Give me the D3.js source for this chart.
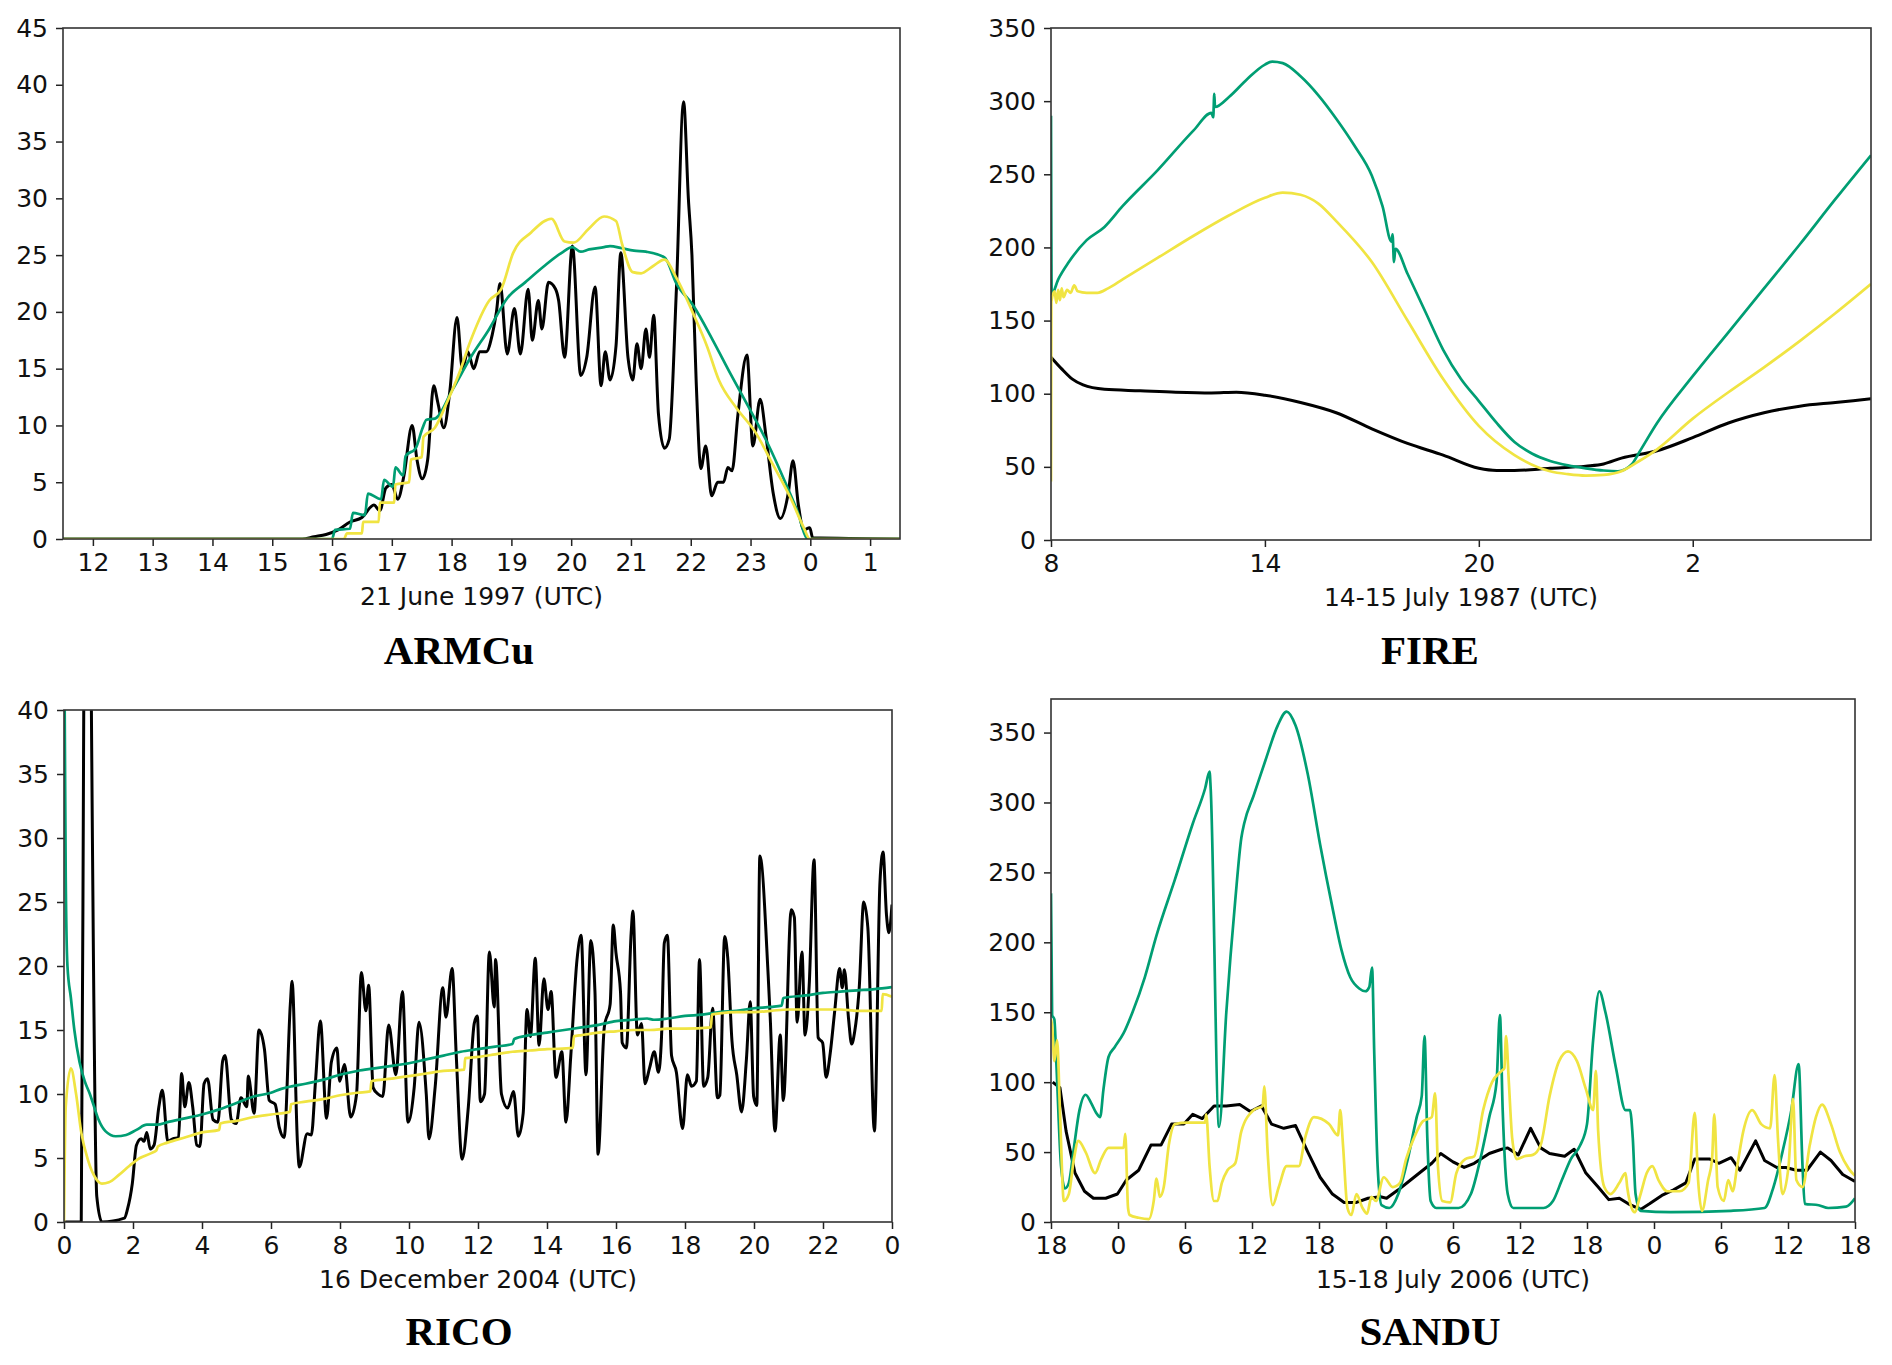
<!DOCTYPE html>
<html>
<head>
<meta charset="utf-8">
<script src="https://cdn.jsdelivr.net/npm/d3@7"></script>
<style>
  body { margin: 0; background: #fff; }
  svg { display: block; }
</style>
</head>
<body>
<svg id="fig" width="1892" height="1365"></svg>
<script>
// ---- data (hours, value) ----

// ARMCu, 21 June 1997
const armcuTicks = [12, 13, 14, 15, 16, 17, 18, 19, 20, 21, 22, 23, 24, 25];
const armcuTickLabels = ["12", "13", "14", "15", "16", "17", "18", "19", "20", "21", "22", "23", "0", "1"];
const armcuYTicks = [0, 5, 10, 15, 20, 25, 30, 35, 40, 45];
const armcuBlack = [[11.5,0],[15.5,0],[15.7,0.2],[15.9,0.4],[16.1,0.8],[16.3,1.5],[16.5,1.9],[16.7,3],[16.8,2.5],[16.9,4.5],[17.0,4.8],[17.1,3.5],[17.2,5.5],[17.34,10],[17.42,7],[17.51,5.3],[17.6,7],[17.7,13.5],[17.77,12],[17.87,9.8],[17.97,13],[18.09,19.5],[18.18,15],[18.27,16.5],[18.37,15],[18.47,16.5],[18.58,16.5],[18.68,18],[18.75,20],[18.81,22.5],[18.93,16.3],[19.05,20.3],[19.15,16.3],[19.28,22],[19.35,17.5],[19.45,21],[19.51,18.5],[19.62,22.6],[19.74,22],[19.79,21],[19.89,16],[20.02,25.8],[20.16,14.4],[20.26,16],[20.4,22.2],[20.5,13.5],[20.57,16.5],[20.65,14],[20.75,17],[20.83,25.2],[20.95,16],[21.03,14],[21.1,17.2],[21.17,15],[21.25,18.5],[21.31,16],[21.38,19.7],[21.46,11],[21.56,8],[21.64,8.8],[21.76,22],[21.88,38.5],[21.96,30],[22.02,25],[22.09,14],[22.17,6.2],[22.25,8.2],[22.35,3.8],[22.45,5],[22.55,5],[22.62,6.3],[22.69,6],[22.79,11],[22.94,16.2],[23.04,8.2],[23.16,12.3],[23.26,9],[23.38,4],[23.5,1.8],[23.63,4],[23.71,6.9],[23.8,3],[23.89,0.8],[23.99,1],[24.04,0.1],[25.5,0]];
const armcuGreen = [[11.5,0],[16.0,0],[16.05,0.8],[16.3,0.9],[16.35,2.3],[16.55,2.1],[16.6,4],[16.82,3.5],[16.87,5.2],[17.02,4.6],[17.06,6.3],[17.19,5.6],[17.23,7.3],[17.4,8],[17.51,9.7],[17.58,10.5],[17.72,10.6],[18.02,13.2],[18.32,16],[18.63,18.5],[18.93,21.2],[19.23,22.6],[19.54,24],[19.84,25.2],[20.02,25.7],[20.16,25.3],[20.3,25.5],[20.55,25.7],[20.65,25.8],[20.85,25.6],[21.05,25.4],[21.25,25.3],[21.56,24.8],[21.76,22.5],[22.05,20.5],[22.37,17.5],[22.67,14.5],[22.98,11.5],[23.28,8.5],[23.58,5],[23.78,2.5],[23.96,0],[25.5,0]];
const armcuYellow = [[11.5,0],[16.2,0],[16.25,0.5],[16.5,0.5],[16.52,1.5],[16.78,1.5],[16.8,3.2],[17.04,3.2],[17.06,4.8],[17.29,5],[17.32,7],[17.5,7.2],[17.53,9],[17.72,9.8],[17.92,12],[18.12,14.5],[18.32,17.5],[18.63,21],[18.83,22],[19.03,25.2],[19.33,27],[19.67,28.2],[19.89,26.2],[20.04,26.1],[20.29,27.3],[20.55,28.4],[20.75,28],[20.85,26],[21.03,23.5],[21.17,23.4],[21.36,24],[21.56,24.6],[21.76,23],[22.07,19.5],[22.27,17],[22.47,14],[22.77,11.5],[23.07,9.5],[23.38,6.5],[23.68,3.5],[23.89,1],[23.99,0],[25.5,0]];

// FIRE, 14-15 July 1987
const fireTicks = [8, 14, 20, 26];
const fireTickLabels = ["8", "14", "20", "2"];
const fireYTicks = [0, 50, 100, 150, 200, 250, 300, 350];
const fireBlack = [[8.0,125],[8.3,117],[8.6,110],[8.9,106],[9.5,103],[10.5,102],[11.5,101],[12.5,100.5],[13.2,101],[14,99],[15,94],[16,87],[17,76],[18,66],[19,58],[20,49],[20.5,47.5],[21,47.5],[22,49],[23,50.5],[23.5,52],[24,56],[25,61],[26,70],[27,80],[28,87],[29,91.5],[30,94],[31,96.5]];
const fireGreen = [[8.0,290],[8.02,168],[8.2,178],[8.5,190],[9,205],[9.5,214],[10,228],[11,253],[12,280],[12.5,292],[12.55,289],[12.58,305],[12.6,296],[13,303],[13.5,315],[14,325],[14.2,327],[14.5,326],[15,317],[15.5,304],[16,288],[16.5,270],[17,249],[17.3,228],[17.55,204],[17.58,209],[17.62,190],[17.66,199],[18,182],[18.5,156],[19,130],[19.5,110],[20,95],[20.5,80],[21,67],[21.5,59],[22,54],[22.5,51],[23,49],[23.5,47.5],[23.9,47],[24.3,52],[24.5,60],[25,80],[26,112],[27,142],[28,172],[29,202],[30,233],[31,263]];
const fireYellow = [[8.0,40],[8.01,163],[8.1,170],[8.15,162],[8.2,171],[8.25,164],[8.3,172],[8.35,166],[8.45,171],[8.55,169],[8.65,174],[8.75,170],[9,169],[9.3,169],[9.6,172],[10,178],[11,193],[12,208],[13,222],[14,234],[14.5,237.5],[15,236],[15.5,230],[16,218],[17,190],[18,150],[19,110],[20,78],[21,58],[22,47],[22.5,45],[23,44],[23.5,44.5],[24,47],[24.5,54],[25,62],[26,83],[27,101],[28,118],[29,136],[30,155],[31,175]];

// RICO, 16 December 2004
const ricoTicks = [0, 2, 4, 6, 8, 10, 12, 14, 16, 18, 20, 22, 24];
const ricoTickLabels = ["0", "2", "4", "6", "8", "10", "12", "14", "16", "18", "20", "22", "0"];
const ricoYTicks = [0, 5, 10, 15, 20, 25, 30, 35, 40];
const ricoBlack = [[0,0],[0.5,0],[0.58,45],[0.62,60],[0.74,60],[0.78,45],[0.95,2],[1.1,0],[1.75,0.3],[1.84,1],[1.98,3],[2.1,6],[2.24,6.5],[2.32,6.3],[2.4,7],[2.5,5.7],[2.61,6],[2.75,9],[2.85,10.3],[3.01,6.3],[3.15,6.5],[3.32,6.6],[3.41,11.6],[3.5,9],[3.62,10.9],[3.73,9],[3.85,6],[3.94,5.9],[4.06,10.8],[4.16,11.2],[4.32,8],[4.46,7.8],[4.6,12.6],[4.67,13],[4.85,8],[4.99,7.7],[5.13,9.7],[5.3,9],[5.34,11.4],[5.51,8.5],[5.65,15],[5.81,13.5],[5.95,9.5],[6.12,9.2],[6.24,7.4],[6.38,6.6],[6.56,17],[6.61,18.8],[6.77,6],[6.82,4.3],[7.05,6.9],[7.17,6.8],[7.29,11],[7.43,15.7],[7.61,8.1],[7.75,12.5],[7.91,13.6],[7.99,11],[8.13,12.3],[8.31,8.2],[8.48,10],[8.62,19.5],[8.75,16.5],[8.83,18.5],[8.96,10.5],[9.1,10],[9.24,9.8],[9.41,15.4],[9.62,11.5],[9.81,18],[9.97,7.8],[10.15,10.5],[10.29,15.6],[10.5,10],[10.58,6.5],[10.76,10.6],[10.98,18.3],[11.07,16],[11.25,19.8],[11.37,13],[11.54,4.9],[11.72,9],[11.89,15.5],[11.98,16.1],[12.07,9.4],[12.19,10],[12.33,21.1],[12.47,16.8],[12.51,20.5],[12.68,10],[12.86,8.9],[13.03,10.2],[13.17,6.7],[13.31,8.5],[13.42,16.6],[13.52,14.5],[13.66,20.6],[13.77,13.8],[13.91,19],[14.03,16.6],[14.12,18],[14.26,11.3],[14.43,13.3],[14.55,7.8],[14.69,13],[14.87,20.5],[14.99,22.4],[15.13,11.5],[15.27,22],[15.39,18],[15.48,5.3],[15.66,15.2],[15.83,17],[15.92,23.2],[16.0,21],[16.13,18],[16.18,14],[16.3,13.6],[16.44,22.6],[16.49,24.3],[16.62,14.6],[16.74,15.5],[16.84,10.8],[16.97,12],[17.11,13.3],[17.23,11.7],[17.32,14.5],[17.4,21.8],[17.49,22.4],[17.61,13],[17.75,11.7],[17.93,7.3],[18.07,11.5],[18.19,10.6],[18.33,11],[18.42,20.5],[18.54,10.6],[18.66,11.3],[18.8,16.7],[18.94,9.7],[19.01,9.9],[19.15,22.3],[19.24,20.6],[19.36,14.2],[19.5,11.5],[19.64,8.6],[19.78,12.7],[19.89,17.2],[19.99,9.8],[20.08,9.1],[20.17,28.6],[20.41,19.3],[20.47,16],[20.61,7.1],[20.76,14.6],[20.85,9.5],[21.08,24.4],[21.17,23.8],[21.25,15.6],[21.39,21.1],[21.48,14.6],[21.6,18.5],[21.74,28.3],[21.86,14.4],[21.99,14],[22.09,11.3],[22.21,13.2],[22.34,16.5],[22.48,19.8],[22.56,18.3],[22.62,19.7],[22.74,15.9],[22.83,13.9],[22.92,14.9],[23.05,18.3],[23.18,25],[23.3,23],[23.49,7.1],[23.65,26.5],[23.74,28.9],[23.84,24],[23.91,22.6],[24,24.8]];
const ricoGreen = [[0,45],[0.02,40],[0.05,27],[0.1,20],[0.2,17.5],[0.3,15],[0.45,12.5],[0.6,11],[0.75,10],[0.85,9.2],[1.0,8],[1.2,7.1],[1.5,6.7],[1.8,6.8],[2.1,7.2],[2.4,7.6],[2.7,7.6],[3.0,7.8],[3.5,8.1],[4,8.4],[4.5,8.8],[5,9.3],[5.5,9.8],[6,10.1],[6.3,10.4],[6.6,10.6],[7,10.8],[7.5,11.1],[8,11.5],[8.5,11.8],[9,12],[9.5,12.2],[10,12.4],[10.5,12.7],[11,13],[11.5,13.3],[12,13.5],[12.5,13.7],[13,13.9],[13.05,14.3],[13.5,14.6],[14,14.8],[14.5,15],[15,15.2],[15.5,15.4],[16,15.7],[16.5,15.8],[16.9,15.9],[17.1,15.8],[17.5,15.9],[18,16.1],[18.5,16.2],[19,16.4],[19.5,16.5],[20,16.7],[20.5,16.8],[20.8,16.9],[20.85,17.5],[21.5,17.7],[22,17.9],[22.5,18],[23,18.1],[23.5,18.2],[24,18.35]];
const ricoYellow = [[0,0],[0.05,9],[0.2,12],[0.35,10],[0.5,7],[0.7,4.8],[0.9,3.5],[1.1,3],[1.3,3.1],[1.6,3.7],[1.9,4.4],[2.2,5],[2.55,5.4],[2.68,5.6],[2.72,5.9],[3,6.2],[3.5,6.6],[4,7],[4.5,7.2],[4.53,7.7],[5,7.9],[5.5,8.2],[6,8.4],[6.55,8.6],[6.58,9.2],[7,9.4],[7.5,9.6],[8,9.9],[8.5,10.1],[8.88,10.2],[8.91,11],[9.5,11.2],[10,11.4],[10.5,11.6],[11,11.8],[11.6,11.9],[11.63,12.8],[12,12.9],[12.5,13.1],[13,13.3],[13.5,13.4],[14,13.5],[14.75,13.6],[14.78,14.5],[15,14.6],[15.5,14.8],[16,14.9],[16.5,15],[17,15],[17.5,15.1],[18,15.1],[18.75,15.2],[18.78,16.2],[19,16.3],[19.5,16.4],[20,16.4],[20.5,16.5],[21,16.6],[21.5,16.6],[22,16.6],[22.5,16.6],[23,16.5],[23.7,16.5],[23.73,17.8],[24,17.6]];

// SANDU, 15-18 July 2006 (hours after 18 UTC on 15 July)
const sanduTicks = [0, 6, 12, 18, 24, 30, 36, 42, 48, 54, 60, 66, 72];
const sanduTickLabels = ["18", "0", "6", "12", "18", "0", "6", "12", "18", "0", "6", "12", "18"];
const sanduYTicks = [0, 50, 100, 150, 200, 250, 300, 350];
const sanduBlack = [[0.15,100],[0.8,96],[1.35,65],[2.15,35],[3.0,22],[3.8,17],[4.9,17],[5.95,20],[6.75,30],[7.85,37],[8.95,55],[9.85,55],[10.8,70],[11.9,70],[12.7,77],[13.55,74],[14.6,83],[15.7,83],[16.9,84],[17.85,79],[18.85,83],[19.75,70],[20.85,67],[21.9,69],[23.0,50],[24.1,32],[25.2,20],[26.25,14],[27.35,14],[28.4,17],[29.5,18],[30.05,17],[31.1,23],[32.2,30],[33.3,37],[34.1,42],[34.9,49],[36.0,43],[37.0,39],[37.9,42],[39.25,49],[40.35,52],[40.9,53],[41.85,48],[42.95,67],[43.85,53],[44.65,49],[46.0,47],[46.85,52],[47.9,35],[49.0,25],[49.95,16],[50.9,17],[51.7,13],[52.8,9],[53.6,13],[54.7,19],[55.75,23],[56.85,28],[57.65,45],[59.0,45],[59.8,42],[60.9,46],[61.7,37],[63.1,58],[63.9,44],[65.0,39],[65.8,39],[66.75,37],[67.7,37],[68.9,50],[69.85,44],[70.9,34],[72,29]];
const sanduGreen = [[0,235],[0.1,148],[0.3,145],[0.5,110],[0.9,40],[1.25,24],[1.6,28],[2.0,50],[2.55,80],[3.1,91],[3.6,85],[4.05,78],[4.4,75],[4.7,95],[5.15,118],[5.7,125],[6.5,135],[7.3,150],[8.4,175],[9.45,205],[11.1,245],[12.7,285],[13.8,310],[14.2,322],[14.3,310],[15.05,68],[15.7,150],[16.5,230],[17.05,275],[17.3,285],[18.15,305],[19.2,330],[20.3,355],[21.1,365],[21.9,355],[23.0,320],[24.1,270],[25.2,225],[26.0,195],[26.8,175],[27.6,167],[28.15,165],[28.5,168],[28.75,182],[28.95,120],[29.25,40],[29.6,12],[30.3,10],[31.1,20],[31.95,45],[32.75,75],[33.2,90],[33.45,133],[33.7,60],[34.0,15],[34.5,10],[36.5,10],[37.6,20],[38.45,45],[39.25,75],[39.9,100],[40.2,148],[40.45,80],[40.9,20],[41.4,10],[44.1,10],[44.95,15],[45.75,30],[46.55,45],[47.4,55],[48.0,70],[48.55,130],[49.1,165],[49.65,150],[50.6,110],[51.45,80],[51.85,80],[52.1,60],[52.35,20],[52.8,8],[55.5,7],[60.9,8],[63.9,10],[64.7,25],[65.5,50],[66.3,80],[66.95,113],[67.3,40],[67.5,13],[68.75,12],[69.6,10],[71.2,11],[72,17]];
const sanduYellow = [[0,145],[0.1,140],[0.3,115],[0.55,130],[0.8,80],[1.15,15],[1.6,20],[2.05,45],[2.45,58],[3.1,50],[3.95,35],[4.5,45],[5.15,53],[6.5,53],[6.65,63],[6.9,10],[7.05,5],[7.85,3],[8.75,2],[9.2,15],[9.45,31],[9.75,18],[10.1,25],[10.55,55],[11.1,70],[12.2,71],[13.8,71],[13.9,77],[14.2,40],[14.6,15],[14.9,15],[15.3,28],[15.8,37],[16.5,42],[17.05,65],[18.15,80],[18.95,83],[19.1,97],[19.4,50],[19.85,12],[20.4,25],[21.1,40],[22.2,40],[22.75,60],[23.55,75],[24.9,70],[25.7,62],[25.9,80],[26.15,55],[26.55,10],[26.9,5],[27.35,20],[27.9,10],[28.3,6],[28.7,18],[29.1,15],[29.8,32],[30.6,25],[31.25,28],[31.8,45],[32.5,60],[33.3,72],[34.1,75],[34.4,92],[34.65,40],[35.05,15],[35.75,14],[36.3,35],[37.1,45],[37.9,47],[38.7,80],[39.5,100],[40.35,108],[40.6,110],[40.75,133],[41.0,100],[41.3,60],[41.7,45],[42.4,47],[43.15,48],[43.85,55],[44.65,90],[45.5,115],[46.3,122],[47.1,115],[47.9,95],[48.55,80],[48.8,108],[49.0,65],[49.55,25],[50.1,20],[50.9,28],[51.45,35],[51.6,25],[52.0,10],[52.25,7],[52.8,20],[53.35,35],[53.85,40],[54.4,30],[55.2,22],[56.3,22],[57.1,28],[57.65,78],[57.95,30],[58.3,8],[58.85,30],[59.2,45],[59.4,77],[59.7,25],[60.25,15],[60.65,30],[61.05,22],[61.45,40],[62.0,65],[62.8,80],[63.6,70],[64.4,67],[64.8,105],[65.1,60],[65.5,20],[66.05,40],[66.45,88],[66.75,30],[67.3,25],[67.95,55],[68.5,75],[69.05,84],[69.85,70],[70.65,50],[71.45,38],[72,33]];

// ---- colours ----
const BLACK = "#000000";
const GREEN = "#009E73";
const YELLOW = "#F0E442";

const svg = d3.select("#fig");
svg.append("rect").attr("width", 1892).attr("height", 1365).attr("fill", "#fff");

const smooth = d3.curveMonotoneX;
const straight = d3.curveLinear;

const panels = [
  { id: "armcu", title: "ARMCu", xlabel: "21 June 1997 (UTC)", box: { left: 63, right: 900, top: 28, bottom: 539 },
    xDomain: [11.5, 25.5], yDomain: [0, 45], xTicks: armcuTicks, xLabels: armcuTickLabels, yTicks: armcuYTicks,
    titleX: 459, titleY: 664,
    series: [[armcuBlack, BLACK, smooth], [armcuGreen, GREEN, smooth], [armcuYellow, YELLOW, smooth]] },
  { id: "fire", title: "FIRE", xlabel: "14-15 July 1987 (UTC)", box: { left: 1051, right: 1871, top: 28, bottom: 540 },
    xDomain: [8, 31], yDomain: [0, 350], xTicks: fireTicks, xLabels: fireTickLabels, yTicks: fireYTicks,
    titleX: 1430, titleY: 664,
    series: [[fireBlack, BLACK, smooth], [fireGreen, GREEN, smooth], [fireYellow, YELLOW, smooth]] },
  { id: "rico", title: "RICO", xlabel: "16 December 2004 (UTC)", box: { left: 64, right: 892, top: 710, bottom: 1222 },
    xDomain: [0, 24], yDomain: [0, 40], xTicks: ricoTicks, xLabels: ricoTickLabels, yTicks: ricoYTicks,
    titleX: 459, titleY: 1345,
    series: [[ricoBlack, BLACK, smooth], [ricoGreen, GREEN, smooth], [ricoYellow, YELLOW, smooth]] },
  { id: "sandu", title: "SANDU", xlabel: "15-18 July 2006 (UTC)", box: { left: 1051, right: 1855, top: 699, bottom: 1222 },
    xDomain: [0, 72], yDomain: [0, 374], xTicks: sanduTicks, xLabels: sanduTickLabels, yTicks: sanduYTicks,
    titleX: 1430, titleY: 1345,
    series: [[sanduBlack, BLACK, straight], [sanduGreen, GREEN, smooth], [sanduYellow, YELLOW, smooth]] }
];

panels.forEach(function (p) {
  const b = p.box;
  const w = b.right - b.left;
  const h = b.bottom - b.top;
  const g = svg.append("g").attr("transform", "translate(" + b.left + "," + b.top + ")");

  const x = d3.scaleLinear().domain(p.xDomain).range([0, w]);
  const y = d3.scaleLinear().domain(p.yDomain).range([h, 0]);

  g.append("clipPath").attr("id", "clip-" + p.id)
    .append("rect").attr("width", w).attr("height", h);

  // lines
  const plot = g.append("g").attr("clip-path", "url(#clip-" + p.id + ")");
  p.series.forEach(function (s) {
    const line = d3.line().x(d => x(d[0])).y(d => y(d[1])).curve(s[2]);
    plot.append("path")
      .datum(s[0])
      .attr("fill", "none")
      .attr("stroke", s[1])
      .attr("stroke-width", s[1] === BLACK ? 3 : 2.7)
      .attr("stroke-linejoin", "round")
      .attr("d", line);
  });

  // axes
  const xAxis = d3.axisBottom(x).tickValues(p.xTicks)
    .tickFormat((d, i) => p.xLabels[i]).tickSize(7).tickPadding(7);
  const yAxis = d3.axisLeft(y).tickValues(p.yTicks).tickSize(7).tickPadding(8);

  const gx = g.append("g").attr("transform", "translate(0," + h + ")").call(xAxis);
  const gy = g.append("g").call(yAxis);
  [gx, gy].forEach(function (a) {
    a.select(".domain").remove();
    a.selectAll(".tick line").attr("stroke", "#222").attr("stroke-width", 1.5);
    a.selectAll(".tick text")
      .attr("fill", "#111")
      .style("font-family", "'DejaVu Sans', sans-serif")
      .style("font-size", "25px");
  });

  // frame
  g.append("rect").attr("width", w).attr("height", h)
    .attr("fill", "none").attr("stroke", "#333").attr("stroke-width", 1.6);

  // x label
  svg.append("text")
    .attr("x", b.left + w / 2).attr("y", b.bottom + 66)
    .attr("text-anchor", "middle")
    .attr("fill", "#111")
    .style("font-family", "'DejaVu Sans', sans-serif")
    .style("font-size", "25px")
    .text(p.xlabel);

  // panel title
  svg.append("text")
    .attr("x", p.titleX).attr("y", p.titleY)
    .attr("text-anchor", "middle")
    .attr("fill", "#000")
    .style("font-family", "'Liberation Serif', 'Times New Roman', serif")
    .style("font-weight", "bold")
    .style("font-size", "41px")
    .text(p.title);
});
</script>
</body>
</html>
